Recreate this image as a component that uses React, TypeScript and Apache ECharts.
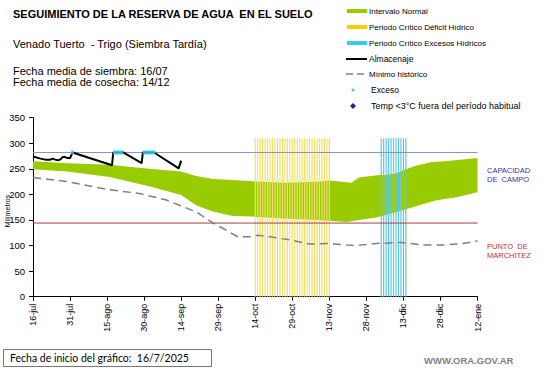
import React, { useEffect, useRef } from "react";
import * as echarts from "echarts";

// x axis: days since 16-jul
const tickLabels = ["16-jul", "31-jul", "15-ago", "30-ago", "14-sep", "29-sep", "14-oct", "29-oct", "13-nov", "28-nov", "13-dic", "28-dic", "12-ene"];
const yAxisTitle = "Milímetros";

// Intervalo normal (upper / lower bounds)
const bandUpper: [number, number][] = [
  [0, 265], [14, 261], [31, 258], [47, 250], [60, 245], [66, 236], [73, 230], [81, 228], [88, 226],
  [101, 223], [115, 225], [120, 227], [125, 225], [129, 223], [132, 233], [140, 238], [142, 238],
  [147, 241], [151, 249], [155, 256], [161, 263], [169, 266], [180, 271],
];
const bandLower: [number, number][] = [
  [0, 249], [14, 245], [31, 234], [47, 216], [60, 199], [66, 179], [73, 166], [81, 158], [88, 157],
  [101, 153], [115, 150], [127, 146], [132, 150], [139, 155], [147, 165], [155, 177], [163, 188],
  [172, 195], [180, 204],
];

// Mínimo histórico
const minHist: [number, number][] = [
  [0, 233], [14, 225], [31, 209], [43, 202], [54, 189], [66, 166], [73, 144], [83, 117], [88, 117],
  [91, 120], [96, 117], [104, 111], [112, 103], [120, 104], [130, 100], [139, 104], [149, 106],
  [158, 101], [166, 101], [174, 104], [180, 109],
];

// Almacenaje
const almacenaje: [number, number][] = [
  [0, 274], [3, 270], [5, 268], [7, 268], [8, 270], [9, 268], [10, 267], [11, 268], [12, 273],
  [13, 273], [14, 271], [15, 271], [16, 282], [32, 257], [32.5, 282], [36.5, 282], [44, 261],
  [44.5, 282], [49, 282], [59, 251], [60, 266],
];

// Exceso
const excesoDays = [16, 33, 34, 35, 36, 45, 46, 47, 48, 49];
const excesoValue = 282;

// Periodo crítico déficit hídrico (daily)
const deficitDays = [90, 91, 92, 93, 94, 95, 96, 97, 98, 99, 100, 101, 102, 103, 104, 105, 106, 107, 108, 109, 110, 111, 112, 113, 114, 115, 116, 117, 118, 119, 120];
// Periodo crítico excesos hídricos (daily)
const excesoPeriodDays = [141, 142, 143, 144, 145, 146, 147, 148, 149, 150, 151];
const periodTop = 310;

const capacidadCampo = 282;
const puntoMarchitez = 144;

export default function App() {
  const ref = useRef<HTMLDivElement>(null);
  useEffect(() => {
    if (!ref.current) return;
    const chart = echarts.init(ref.current, undefined, { renderer: "svg" });
    const font = "Liberation Sans, Arial, sans-serif";
    const legendText = (y: number, x: number, text: string, size = 8) => ({
      type: "text", x, y, style: { text, fontSize: size, fontFamily: font, fill: "#000", verticalAlign: "middle" },
    });
    chart.setOption({
      animation: false,
      backgroundColor: "#fff",
      grid: { left: 33, right: 63.5, top: 117.7, bottom: 71.3, containLabel: false, outerBoundsMode: "none" },
      xAxis: {
        type: "value", min: 0, max: 180, interval: 15,
        axisLine: { lineStyle: { color: "#000", width: 1 } },
        axisTick: { show: true, length: 4, lineStyle: { color: "#000" } },
        splitLine: { show: false },
        axisLabel: {
          rotate: 90, fontSize: 9, fontFamily: font, color: "#000", margin: 7,
          formatter: (v: number) => tickLabels[Math.round(v / 15)] ?? "",
        },
      },
      yAxis: {
        type: "value", min: 0, max: 350, interval: 50,
        axisLine: { show: true, lineStyle: { color: "#000", width: 1 } },
        axisTick: { show: true, length: 4, lineStyle: { color: "#000" } },
        splitLine: { show: false },
        axisLabel: { fontSize: 9.5, fontFamily: font, color: "#000", margin: 8 },
      },
      series: [
        {
          type: "custom", name: "Intervalo Normal", z: 1,
          data: [[0, 0]],
          renderItem: (_p: any, api: any) => {
            const pts = [
              ...bandUpper.map((d) => api.coord(d)),
              ...bandLower.slice().reverse().map((d) => api.coord(d)),
            ];
            return { type: "polygon", shape: { points: pts }, style: { fill: "#99cc00" } };
          },
          silent: true,
        },
        {
          type: "bar", name: "Periodo Crítico Déficit Hídrico", z: 2, barGap: "-100%",
          barWidth: 1.2, itemStyle: { color: "#f2df6e" },
          data: deficitDays.map((d) => [d, periodTop]),
        },
        {
          type: "bar", name: "Periodo Crítico Excesos Hídricos", z: 2, barGap: "-100%",
          barWidth: 1.2, itemStyle: { color: "#5fc8e6" },
          data: excesoPeriodDays.map((d) => [d, periodTop]),
        },
        {
          type: "line", name: "Capacidad", z: 3, symbol: "none",
          lineStyle: { color: "#8596cc", width: 1.2 },
          data: [[0, capacidadCampo], [180, capacidadCampo]],
        },
        {
          type: "line", name: "Marchitez", z: 3, symbol: "none",
          lineStyle: { color: "#b53a3a", width: 1 },
          data: [[0, puntoMarchitez], [180, puntoMarchitez]],
        },
        {
          type: "line", name: "Mínimo histórico", z: 4, symbol: "none",
          lineStyle: { color: "#7f7f7f", width: 1.5, type: [8, 5] },
          data: minHist,
        },
        {
          type: "line", name: "Almacenaje", z: 5, symbol: "none",
          lineStyle: { color: "#000", width: 2 },
          data: almacenaje,
        },
        {
          type: "scatter", name: "Exceso", z: 6, symbol: "rect", symbolSize: [3, 4],
          itemStyle: { color: "#33ccee" },
          data: excesoDays.map((d) => [d, excesoValue]),
        },
      ],
      graphic: [
        { type: "text", x: 13, y: 14, style: { text: "SEGUIMIENTO DE LA RESERVA DE AGUA  EN EL SUELO", fontSize: 11, fontWeight: "bold", fontFamily: font, fill: "#000", verticalAlign: "middle" } },
        { type: "text", x: 13, y: 44, style: { text: "Venado Tuerto  - Trigo (Siembra Tardía)", fontSize: 11, fontFamily: font, fill: "#000", verticalAlign: "middle" } },
        { type: "text", x: 13, y: 71, style: { text: "Fecha media de siembra: 16/07", fontSize: 11, fontFamily: font, fill: "#000", verticalAlign: "middle" } },
        { type: "text", x: 13, y: 82, style: { text: "Fecha media de cosecha: 14/12", fontSize: 11, fontFamily: font, fill: "#000", verticalAlign: "middle" } },
        // y axis title
        { type: "text", x: 7, y: 211, rotation: Math.PI / 2, z: 10, style: { text: yAxisTitle, fontSize: 7, fontFamily: font, fill: "#000", align: "center", verticalAlign: "middle" } },
        // legend
        { type: "rect", shape: { x: 347, y: 9, width: 20, height: 4 }, style: { fill: "#99cc00" } },
        legendText(11, 369, "Intervalo Normal"),
        { type: "rect", shape: { x: 347, y: 25, width: 20, height: 4 }, style: { fill: "#ffcc00" } },
        legendText(27, 369, "Periodo Crítico Déficit Hídrico"),
        { type: "rect", shape: { x: 347, y: 41, width: 20, height: 4 }, style: { fill: "#33ccee" } },
        legendText(43, 369, "Periodo Crítico Excesos Hídricos"),
        { type: "line", shape: { x1: 346, y1: 59, x2: 367, y2: 59 }, style: { stroke: "#000", lineWidth: 2 } },
        legendText(59, 369, "Almacenaje", 8.5),
        { type: "line", shape: { x1: 346, y1: 74, x2: 366, y2: 74 }, style: { stroke: "#7f7f7f", lineWidth: 1.5, lineDash: [7, 4] } },
        legendText(74, 369, "Mínimo histórico"),
        { type: "circle", shape: { cx: 353, cy: 90, r: 1.5 }, style: { fill: "#33ccee" } },
        legendText(90, 371, "Exceso", 8.5),
        { type: "polygon", shape: { points: [[353, 103], [356, 106], [353, 109], [350, 106]] }, style: { fill: "#1f1f9f" } },
        legendText(106, 371, "Temp <3°C fuera del período habitual", 9),
        // right labels
        { type: "text", x: 487, y: 175, style: { text: "CAPACIDAD\nDE  CAMPO", fontSize: 7.5, lineHeight: 9, fontFamily: font, fill: "#3333a0", verticalAlign: "middle" } },
        { type: "text", x: 487, y: 251, style: { text: "PUNTO  DE\nMARCHITEZ", fontSize: 7.5, lineHeight: 9, fontFamily: font, fill: "#c03030", verticalAlign: "middle" } },
        // bottom
        { type: "rect", shape: { x: 3.5, y: 349.5, width: 208, height: 17 }, style: { fill: "none", stroke: "#777", lineWidth: 1 } },
        { type: "text", x: 10, y: 358, style: { text: "Fecha de inicio del gráfico:  16/7/2025", fontSize: 10.5, fontFamily: "Lato, sans-serif", fill: "#000", verticalAlign: "middle" } },
        { type: "text", x: 424, y: 360, style: { text: "WWW.ORA.GOV.AR", fontSize: 9.5, fontWeight: "bold", fontFamily: font, fill: "#7f7f7f", verticalAlign: "middle" } },
      ],
    });
    return () => chart.dispose();
  }, []);
  return <div ref={ref} style={{ width: 541, height: 368, position: "absolute", left: 0, top: 0 }} />;
}
